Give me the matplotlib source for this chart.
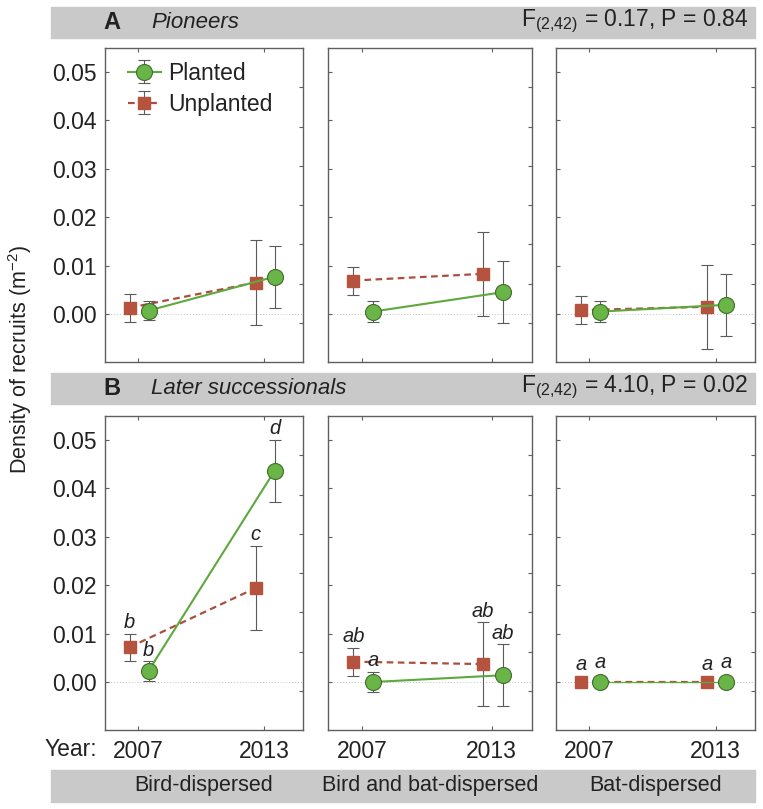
import matplotlib
matplotlib.use("Agg")
import matplotlib.pyplot as plt
from matplotlib.patches import Rectangle

# -----------------------
# Data
# -----------------------
YEARS = ["2007", "2013"]
GROUPS = ["Bird-dispersed", "Bird and bat-dispersed", "Bat-dispersed"]

# Pioneers (row A): one [2007, 2013] pair per dispersal group
PIONEER_PLANTED = [[0.0007, 0.0077], [0.0005, 0.0045], [0.0005, 0.0019]]
PIONEER_PLANTED_ERR = [[0.0020, 0.0064], [0.0021, 0.0064], [0.0021, 0.0064]]
PIONEER_UNPLANTED = [[0.0013, 0.0065], [0.0069, 0.0083], [0.0008, 0.0015]]
PIONEER_UNPLANTED_ERR = [[0.0029, 0.0087], [0.0029, 0.0087], [0.0029, 0.0087]]

# Later successionals (row B)
LATER_PLANTED = [[0.0023, 0.0436], [0.0000, 0.0014], [0.0, 0.0]]
LATER_PLANTED_ERR = [[0.0020, 0.0064], [0.0021, 0.0064], [0.0, 0.0]]
LATER_UNPLANTED = [[0.0072, 0.0194], [0.0042, 0.0037], [0.0, 0.0]]
LATER_UNPLANTED_ERR = [[0.0028, 0.0087], [0.0029, 0.0087], [0.0, 0.0]]

LATER_LETTERS_PLANTED = [["b", "d"], ["a", "ab"], ["a", "a"]]
LATER_LETTERS_UNPLANTED = [["b", "c"], ["ab", "ab"], ["a", "a"]]

ROW_TITLES = [("A", "Pioneers", r"F$_{(2{,}42)}$ = 0.17, P = 0.84"),
              ("B", "Later successionals", r"F$_{(2{,}42)}$ = 4.10, P = 0.02")]

Y_TICKS = [0.0, 0.01, 0.02, 0.03, 0.04, 0.05]
RIGHT_TICKS = [-0.0018, 0.0063, 0.0144, 0.0225, 0.0306, 0.0387, 0.0468]

# -----------------------
# Style
# -----------------------
W, H = 763, 809
GREEN = "#6ab547"
GREEN_EDGE = "#3f6e2b"
GREEN_LINE = "#5ea83d"
BROWN = "#b5533f"
BROWN_LINE = "#a9503d"
ERR = "#5a5a5a"
SPINE = "#5f5f5f"
BAR = "#c9c9c9"
TXT = "#222222"

plt.rcParams["font.family"] = ["Liberation Sans", "DejaVu Sans"]
plt.rcParams["mathtext.default"] = "regular"

COLS = [(105, 303), (328, 532), (556, 755)]
ROWS = [(48, 362), (416, 730)]
OFF_UNPL, OFF_PL = -0.065, 0.085

fig = plt.figure(figsize=(W / 100, H / 100), dpi=100)


def add_bar(y0, y1):
    fig.patches.append(Rectangle((51 / W, 1 - y1 / H), (755 - 51) / W, (y1 - y0) / H,
                                 transform=fig.transFigure, color=BAR, zorder=0))


for y0, y1 in [(7, 38), (373, 404), (770, 802)]:
    add_bar(y0, y1)

# row headers
for (y0, y1), (letter, name, stat) in zip([(7, 38), (373, 404)], ROW_TITLES):
    yc = 1 - (y0 + y1) / 2 / H
    fig.text(112 / W, yc, letter, fontsize=17, fontweight="bold", color=TXT,
             ha="center", va="center")
    fig.text(151 / W, yc, name, fontsize=16, style="italic", color=TXT,
             ha="left", va="center")
    fig.text(748 / W, yc + 0.001, stat, fontsize=16.5, color=TXT, ha="right", va="center")

# group labels in the bottom bar
for (x0, x1), g in zip(COLS, GROUPS):
    fig.text((x0 + x1) / 2 / W, 1 - 786 / H, g, fontsize=15.5, color=TXT,
             ha="center", va="center")

fig.text(20 / W, 1 - 360 / H, r"Density of recruits (m$^{-2}$)", fontsize=15.5,
         color=TXT, rotation=90, ha="center", va="center")
fig.text(71 / W, 1 - 750 / H, "Year:", fontsize=16.5, color=TXT, ha="center", va="center")

row_data = [
    (PIONEER_PLANTED, PIONEER_PLANTED_ERR, PIONEER_UNPLANTED, PIONEER_UNPLANTED_ERR, None, None),
    (LATER_PLANTED, LATER_PLANTED_ERR, LATER_UNPLANTED, LATER_UNPLANTED_ERR,
     LATER_LETTERS_PLANTED, LATER_LETTERS_UNPLANTED),
]

for r, (top, bot) in enumerate(ROWS):
    pl, pl_err, un, un_err, let_pl, let_un = row_data[r]
    for c, (x0, x1) in enumerate(COLS):
        ax = fig.add_axes([x0 / W, 1 - bot / H, (x1 - x0) / W, (bot - top) / H])
        ax.set_xlim(-0.26, 1.31)
        ax.set_ylim(-0.0099, 0.0549)
        ax.axhline(0, color="#c0c0c0", lw=0.7, ls=(0, (1, 2)), zorder=0)

        xs = [0, 1]
        xu = [x + OFF_UNPL for x in xs]
        xp = [x + OFF_PL for x in xs]
        ue = un_err[c] if any(un_err[c]) else None
        pe = pl_err[c] if any(pl_err[c]) else None
        lw_pl = 1.5 if pe is not None else 0.9

        h_un = ax.errorbar(xu, un[c], yerr=ue, fmt="s", ls=(0, (3, 2)), lw=1.6,
                           color=BROWN_LINE, mfc=BROWN, mec=BROWN, ms=9,
                           ecolor=ERR, elinewidth=0.8, capsize=4.5, capthick=0.8,
                           label="Unplanted", zorder=3)
        h_pl = ax.errorbar(xp, pl[c], yerr=pe, fmt="o", ls="-", lw=lw_pl,
                           color=GREEN_LINE, mfc=GREEN, mec=GREEN_EDGE, mew=0.8, ms=11.5,
                           ecolor=ERR, elinewidth=0.8, capsize=4.5, capthick=0.8,
                           label="Planted", zorder=4)

        if let_pl is not None:
            for k in range(2):
                for xpos, y, e, lab, rad in [(xu[k], un[c][k], un_err[c][k], let_un[c][k], 4.5),
                                             (xp[k], pl[c][k], pl_err[c][k], let_pl[c][k], 6)]:
                    off = 1 if e > 0 else rad + 1
                    ax.annotate(lab, (xpos, y + e), xytext=(0, off), textcoords="offset points",
                                ha="center", va="bottom", fontsize=14.5, style="italic",
                                color=TXT, zorder=6)

        ax.set_yticks(Y_TICKS)
        ax.set_xticks(xs)
        ax.tick_params(direction="in", length=3, width=0.8, color=SPINE,
                       labelsize=16.5, labelcolor=TXT, top=True, right=False)
        ax.tick_params(axis="y", pad=6)
        ax.tick_params(axis="x", pad=7)
        if c == 0:
            ax.set_yticklabels([f"{v:.2f}" for v in Y_TICKS])
        else:
            ax.set_yticklabels([])
        if r == 1:
            ax.set_xticklabels(YEARS)
        else:
            ax.set_xticklabels([])
        for s in ax.spines.values():
            s.set_color(SPINE)
            s.set_linewidth(1.0)

        axr = ax.twinx()
        axr.set_ylim(ax.get_ylim())
        axr.set_yticks(RIGHT_TICKS)
        axr.tick_params(direction="in", length=3, width=0.8, color=SPINE, labelright=False)
        for s in axr.spines.values():
            s.set_visible(False)

        if r == 0 and c == 0:
            leg = ax.legend([h_pl, h_un], ["Planted", "Unplanted"], loc="upper left",
                            bbox_to_anchor=(0.045, 1.0), frameon=False, fontsize=16.5,
                            handlelength=1.45, handletextpad=0.3, labelspacing=0.35,
                            borderaxespad=0.2)
            for t in leg.get_texts():
                t.set_color(TXT)

fig.savefig("out.png", dpi=100)
